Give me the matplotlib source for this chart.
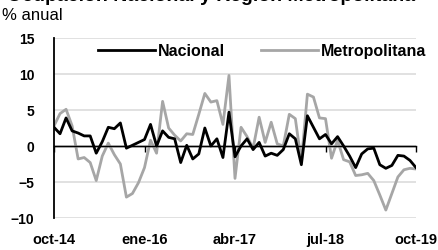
import matplotlib
matplotlib.use("Agg")
import matplotlib.pyplot as plt
import numpy as np

# Monthly series, oct-14 .. oct-19 (61 points), % annual
months = np.arange(61)
nacional = [2.6, 1.7, 3.9, 2.1, 1.8, 1.4, 1.4, -1.0, 0.6, 2.6,
            2.4, 3.2, -0.3, 0.1, 0.5, 0.9, 3.0, 0.0, 2.1, 1.2,
            1.0, -2.3, 0.1, -1.8, -1.1, 2.5, 0.0, 1.0, -1.6, 4.7,
            -1.5, 0.0, 1.0, -0.5, 0.5, -1.4, -1.0, -1.3, -0.5, 1.7,
            1.0, -2.6, 4.2, 2.6, 1.0, 1.6, 0.3, 1.3, 0.0, -1.4,
            -3.0, -1.1, -0.4, -0.3, -2.6, -3.1, -2.7, -1.3, -1.4, -2.0,
            -3.0]
metropolitana = [2.8, 4.5, 5.1, 2.8, -1.8, -1.6, -2.3, -4.8, -1.4, 0.4,
                 -1.2, -2.5, -7.1, -6.6, -5.1, -3.0, 0.8, -1.0, 6.2, 2.5,
                 1.5, 0.7, 1.7, 1.6, 4.4, 7.3, 6.1, 6.3, 3.0, 9.8,
                 -4.5, 2.6, 1.3, -0.3, 4.0, 0.5, 3.3, 0.3, 0.0, 4.4,
                 3.8, -2.2, 7.2, 6.8, 3.9, 3.8, -1.7, 0.8, -1.9, -2.2,
                 -4.1, -4.0, -3.8, -4.8, -6.8, -8.9, -6.6, -4.3, -3.3, -3.1,
                 -3.2]
tick_pos = [0, 15, 30, 45, 60]
tick_labels = ["oct-14", "ene-16", "abr-17", "jul-18", "oct-19"]
y_ticks = [-10, -5, 0, 5, 10, 15]

plt.rcParams["font.family"] = ["Liberation Sans", "DejaVu Sans"]

fig = plt.figure(figsize=(4.38, 2.51), dpi=100)
ax = fig.add_axes([54 / 438, 1 - 219 / 251, 362 / 438, 180 / 251])

# light grid, black zero line
for yv in y_ticks:
    if yv != 0:
        ax.axhline(yv, color="#d9d9d9", lw=1.1, zorder=0)
ax.axhline(0, color="black", lw=1.0, zorder=1)

ax.plot(months, nacional, color="black", lw=2.0, label="Nacional", zorder=3)
ax.plot(months, metropolitana, color="#a6a6a6", lw=2.0, label="Metropolitana", zorder=2)

ax.set_xlim(0, 60)
ax.set_ylim(-10, 15)

# spines: left axis black, bottom axis sits on zero with small ticks
for s in ["top", "right"]:
    ax.spines[s].set_visible(False)
ax.spines["left"].set_color("black")
ax.spines["left"].set_linewidth(1.3)
ax.spines["bottom"].set_position(("data", 0))
ax.spines["bottom"].set_linewidth(1.0)
ax.set_xticks(tick_pos)
ax.tick_params(axis="x", direction="out", length=4, width=1, labelbottom=False)
ax.set_yticks(y_ticks)
ax.tick_params(axis="y", length=0, pad=14)
for lab in ax.get_yticklabels():
    lab.set_fontweight("bold")
    lab.set_fontsize(10)

# tick labels at the bottom of the plot area
sec = ax.secondary_xaxis("bottom")
sec.set_xticks(tick_pos)
sec.set_xticklabels(tick_labels, fontweight="bold", fontsize=10.5)
sec.tick_params(length=0, pad=10)
sec.spines["bottom"].set_visible(False)

leg = ax.legend(loc="center", bbox_to_anchor=(0.575, 0.93), ncol=2, frameon=False,
                handlelength=3.6, handletextpad=0.2, columnspacing=2.2,
                prop={"weight": "bold", "size": 11.5})

fig.text(2 / 438, 1 - 16 / 251, "% anual", fontsize=12, va="center", ha="left")
# title is cut off at the top edge of the image (only its lower part shows)
fig.text(211 / 438, 1 - 1 / 251, "Ocupación Nacional y Región Metropolitana",
         fontsize=14, fontweight="bold", ha="center", va="baseline")

fig.savefig("out.png", dpi=100)
